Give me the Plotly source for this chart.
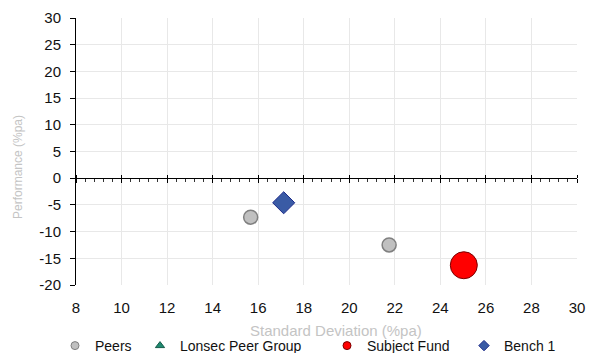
import plotly.graph_objects as go

# ---- data ----
peers_sd = [15.67, 21.75]
peers_perf = [-7.3, -12.5]
subject_sd = [25.03]
subject_perf = [-16.3]
bench_sd = [17.12]
bench_perf = [-4.6]
lonsec_sd = []
lonsec_perf = []

x_ticks = [8, 10, 12, 14, 16, 18, 20, 22, 24, 26, 28, 30]
y_ticks = [30, 25, 20, 15, 10, 5, 0, -5, -10, -15, -20]

x_title = "Standard Deviation (%pa)"
y_title = "Performance (%pa)"

FONT = "Liberation Sans, Arial, sans-serif"
W, H = 596, 353
L, R, T, B = 76, 19, 18, 68

fig = go.Figure()

# data traces
fig.add_trace(go.Scatter(x=peers_sd, y=peers_perf, mode="markers", name="Peers", showlegend=False,
                         marker=dict(symbol="circle", size=14, color="#c0c0c0",
                                     line=dict(color="#808080", width=1.5))))
fig.add_trace(go.Scatter(x=lonsec_sd, y=lonsec_perf, mode="markers", name="Lonsec Peer Group", showlegend=False,
                         marker=dict(symbol="triangle-up", size=14, color="#1f8a70",
                                     line=dict(color="#145c4a", width=1))))
fig.add_trace(go.Scatter(x=subject_sd, y=subject_perf, mode="markers", name="Subject Fund", showlegend=False,
                         marker=dict(symbol="circle", size=27, color="#ff0000",
                                     line=dict(color="#7a0000", width=1))))
fig.add_trace(go.Scatter(x=bench_sd, y=bench_perf, mode="markers", name="Bench 1", showlegend=False,
                         marker=dict(symbol="diamond", size=17, color="#3a5ba5",
                                     line=dict(color="#1c2a8a", width=1))))

# legend-only entries (small symbols as in the reference legend)
legend_specs = [
    ("Peers", "circle", "#c0c0c0", "#808080", "legend", 55),
    ("Lonsec Peer Group", "triangle-up", "#1f8a70", "#145c4a", "legend2", 140),
    ("Subject Fund", "circle", "#ff0000", "#7a0000", "legend3", 327),
    ("Bench 1", "diamond", "#3a5ba5", "#1c2a8a", "legend4", 464),
]
for name, sym, col, lcol, lg, _ in legend_specs:
    fig.add_trace(go.Scatter(x=[None], y=[None], mode="markers", name=name, legend=lg,
                             marker=dict(symbol=sym, size=8, color=col, line=dict(color=lcol, width=1))))

# invisible traces to keep the zero-line axes alive
fig.add_trace(go.Scatter(x=[None], y=[None], xaxis="x2", showlegend=False, hoverinfo="skip"))
fig.add_trace(go.Scatter(x=[None], y=[None], xaxis="x3", showlegend=False, hoverinfo="skip"))

grid = "#e8e8e8"
tickfont = dict(family=FONT, size=15, color="#111111")
title_color = "#c4c4c4"

layout = dict(
    width=W, height=H,
    margin=dict(l=L, r=R, t=T, b=B, autoexpand=False),
    paper_bgcolor="white", plot_bgcolor="white",
    font=dict(family=FONT),
    xaxis=dict(range=[8, 30], tickvals=x_ticks, ticktext=[str(v) for v in x_ticks],
               showgrid=True, gridcolor=grid, gridwidth=1, zeroline=False, showline=False,
               ticks="", tickfont=tickfont, ticklabelstandoff=12),
    yaxis=dict(range=[-20, 30], tickvals=y_ticks, ticktext=[str(v) for v in y_ticks],
               showgrid=True, gridcolor=grid, gridwidth=1, zeroline=False,
               showline=True, linecolor="black", linewidth=1,
               ticks="outside", ticklen=5, tickcolor="black", tickwidth=1,
               tickfont=tickfont, ticklabelstandoff=6),
    xaxis2=dict(overlaying="x", anchor="free", position=0.4, range=[8, 30], side="bottom",
                tickvals=x_ticks, showticklabels=False, showgrid=False, zeroline=False,
                showline=True, linecolor="black", linewidth=1,
                ticks="outside", ticklen=4, tickcolor="black", tickwidth=1,
                minor=dict(dtick=0.4, tick0=8, ticks="outside", ticklen=3, tickcolor="#333333",
                           tickwidth=1, showgrid=False)),
    xaxis3=dict(overlaying="x", anchor="free", position=0.4, range=[8, 30], side="top",
                tickvals=x_ticks, showticklabels=False, showgrid=False, zeroline=False,
                showline=False, ticks="outside", ticklen=3, tickcolor="black", tickwidth=1),
    showlegend=True,
    annotations=[
        dict(text=x_title, xref="paper", yref="paper", x=(336 - L) / (W - L - R), y=(H - B - 330) / (H - T - B),
             xanchor="center", yanchor="middle", showarrow=False,
             font=dict(family=FONT, size=15, color=title_color)),
        dict(text=y_title, xref="paper", yref="paper", x=(18 - L) / (W - L - R), y=(H - B - 167) / (H - T - B),
             xanchor="center", yanchor="middle", showarrow=False, textangle=-90,
             font=dict(family=FONT, size=12, color=title_color)),
    ],
)

for name, sym, col, lcol, lg, xpix in legend_specs:
    layout[lg] = dict(xref="container", yref="container", x=xpix / W, y=(H - 346) / H,
                      xanchor="left", yanchor="middle", orientation="h",
                      bgcolor="rgba(0,0,0,0)", borderwidth=0,
                      font=dict(family=FONT, size=14, color="#111111"))

fig.update_layout(**layout)
fig.write_html("out.html", config={"displayModeBar": False},
               post_script="document.body.style.margin='0';")
